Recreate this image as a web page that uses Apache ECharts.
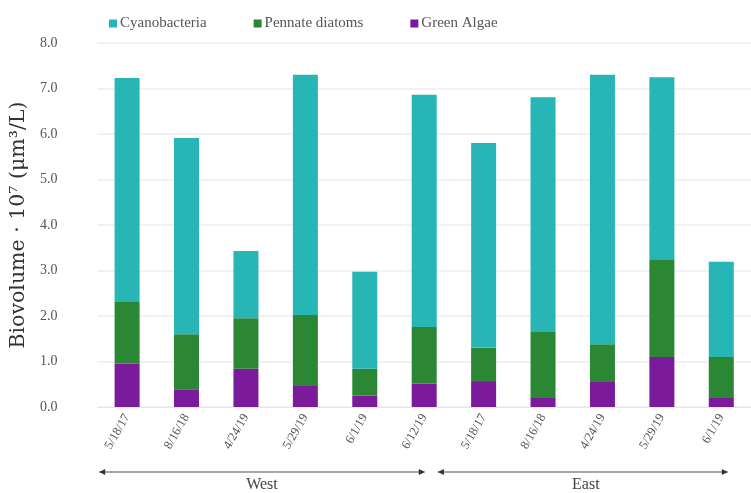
<!DOCTYPE html>
<html><head><meta charset="utf-8">
<script src="https://cdn.jsdelivr.net/npm/echarts@6/dist/echarts.min.js"></script>
<style>html,body{margin:0;padding:0;background:#fff}#c{width:751px;height:493px}</style>
</head><body><div id="c"></div>
<script>
const categories = ['5/18/17','8/16/18','4/24/19','5/29/19','6/1/19','6/12/19','5/18/17','8/16/18','4/24/19','5/29/19','6/1/19'];
const greenAlgae = [0.95,0.39,0.84,0.48,0.25,0.51,0.57,0.20,0.55,1.10,0.20];
const pennateDiatoms = [1.36,1.21,1.11,1.54,0.59,1.25,0.73,1.45,0.83,2.15,0.90];
const cyanobacteria = [4.92,4.31,1.48,5.28,2.13,5.10,4.50,5.16,5.92,4.00,2.09];
const groups = [{name:'West', from:0, to:5}, {name:'East', from:6, to:10}];
const yTicks = [0,1,2,3,4,5,6,7,8];

const FONT = '"Liberation Serif", "DejaVu Serif", serif';
const chart = echarts.init(document.getElementById('c'));
const barW = 25;
chart.setOption({
  animation:false,
  textStyle:{fontFamily:FONT},
  legend:{
    data:['Cyanobacteria','Pennate diatoms','Green Algae'],
    top:11, left:104, itemWidth:8, itemHeight:8, itemGap:47,
    icon:'rect',
    textStyle:{fontFamily:FONT, fontSize:15, color:'#555', padding:[0,0,0,-2]}
  },
  grid:{left:95, top:43, width:667, height:364},
  xAxis:{
    type:'category', data:categories,
    axisTick:{show:false},
    axisLine:{lineStyle:{color:'#e6e6e6', width:1}},
    axisLabel:{rotate:60, color:'#555', fontSize:12.5, fontFamily:FONT, margin:8, interval:0}
  },
  yAxis:{
    type:'value', min:yTicks[0], max:yTicks[yTicks.length-1], interval:1,
    axisLabel:{formatter:v=>v.toFixed(1), color:'#555', fontSize:14, fontFamily:FONT, margin:40},
    splitLine:{lineStyle:{color:'#eeeeee', width:1.5}},
    axisLine:{show:false}, axisTick:{show:false},
    name:'Biovolume · 10⁷ (μm³/L)', nameLocation:'middle', nameGap:57, nameRotate:90,
    nameTextStyle:{fontFamily:'"DejaVu Serif", serif', fontSize:20.5, color:'#333'}
  },
  series:[
    {name:'Green Algae', type:'bar', stack:'s', data:greenAlgae, barWidth:barW, itemStyle:{color:'#7b1b9c'}},
    {name:'Pennate diatoms', type:'bar', stack:'s', data:pennateDiatoms, barWidth:barW, itemStyle:{color:'#2b8734'}},
    {name:'Cyanobacteria', type:'bar', stack:'s', data:cyanobacteria, barWidth:barW, itemStyle:{color:'#27b5b5'}}
  ]
});

// group brackets computed from the category axis
const c = i => chart.convertToPixel({xAxisIndex:0}, i);
const bw = c(1) - c(0);
const lineY = 472;
const spans = [
  [c(groups[0].from) - 0.47*bw, c(groups[0].to) + 0.01*bw],
  [c(groups[1].from) - 0.77*bw, c(groups[1].to) + 0.11*bw]
];
const g = [];
spans.forEach((s, k) => {
  g.push({type:'line', shape:{x1:s[0], y1:lineY, x2:s[1], y2:lineY}, style:{stroke:'#8a8a8a', lineWidth:1.5}});
  g.push({type:'polygon', shape:{points:[[s[0],lineY],[s[0]+6,lineY-3],[s[0]+6,lineY+3]]}, style:{fill:'#333'}});
  g.push({type:'polygon', shape:{points:[[s[1],lineY],[s[1]-6,lineY-3],[s[1]-6,lineY+3]]}, style:{fill:'#333'}});
  g.push({type:'text', x:(s[0]+s[1])/2 + (k?3:0), y:lineY+13, style:{text:groups[k].name, font:'16px '+FONT, fill:'#444', textAlign:'center', textVerticalAlign:'middle'}});
});
chart.setOption({graphic:g});
</script>
</body></html>
